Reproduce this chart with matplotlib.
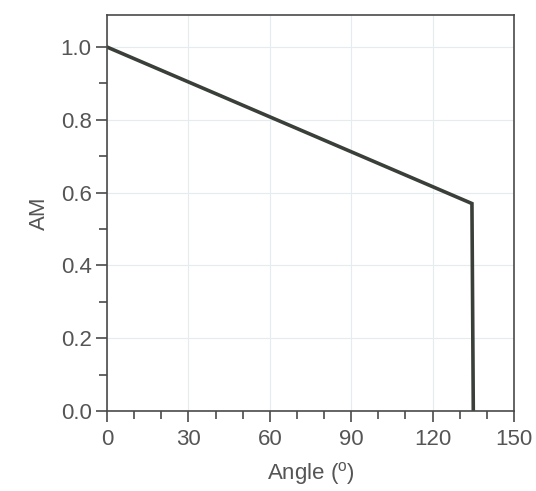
import matplotlib
matplotlib.use("Agg")
import matplotlib.pyplot as plt
from matplotlib.ticker import MultipleLocator

# dados
angulo = [0, 134.5, 135]
am = [1.0, 0.57, 0.0]

plt.rcParams['font.family'] = ['Liberation Sans', 'DejaVu Sans']
plt.rcParams['mathtext.fontset'] = 'custom'
plt.rcParams['mathtext.rm'] = 'Liberation Sans'

cor_texto = '#555555'
cor_eixo = '#4a4a4a'

fig = plt.figure(figsize=(5.36, 4.91), dpi=100)
ax = fig.add_axes([107 / 536, 80 / 491, 407 / 536, 396 / 491])

ax.plot(angulo, am, color='#3a3f3a', linewidth=2.6, solid_joinstyle='miter')

ax.set_xlim(0, 150)
ax.set_ylim(0, 1.088)
ax.xaxis.set_major_locator(MultipleLocator(30))
ax.xaxis.set_minor_locator(MultipleLocator(10))
ax.yaxis.set_major_locator(MultipleLocator(0.2))
ax.yaxis.set_minor_locator(MultipleLocator(0.1))
ax.yaxis.set_major_formatter(matplotlib.ticker.FormatStrFormatter('%.1f'))

ax.grid(True, which='major', color='#e4ecf0', linewidth=0.8)
ax.set_axisbelow(True)

for s in ax.spines.values():
    s.set_color(cor_eixo)
    s.set_linewidth(1.2)

ax.tick_params(which='major', length=8, width=1.2, color=cor_eixo,
               labelsize=16, labelcolor=cor_texto, pad=3)
ax.tick_params(axis='x', which='major', pad=5)
ax.tick_params(which='minor', length=6, width=1.2, color=cor_eixo)

ax.set_xlabel(r'Angle ($^{\mathrm{o}}$)', fontsize=16, color=cor_texto, labelpad=7)
ax.set_ylabel('AM', fontsize=16, color=cor_texto, labelpad=8)

fig.savefig('out.png', dpi=100)
